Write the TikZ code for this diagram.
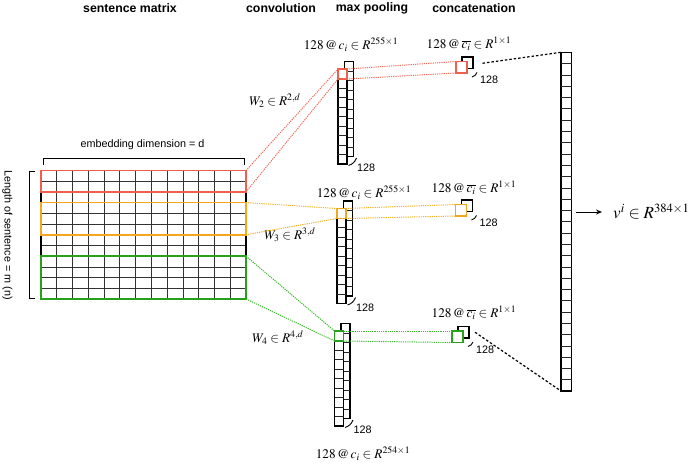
\documentclass[tikz,border=0pt]{standalone}
\usepackage{mathptmx}
\usepackage[no-math]{fontspec}
\setmainfont{Liberation Sans}
\usetikzlibrary{calc,arrows.meta}
\definecolor{cred}{HTML}{EE5F4E}
\definecolor{corange}{HTML}{F4A61E}
\definecolor{cgreen}{HTML}{27A01B}
\definecolor{dred}{HTML}{F26B5B}
\definecolor{dorange}{HTML}{F6B024}
\definecolor{dgreen}{HTML}{3CB82E}
\begin{document}
\begin{tikzpicture}[x=1pt,y=-1pt,
  box/.style={draw=black,line width=1.3pt,fill=white,inner sep=0pt,outer sep=0pt,anchor=north west},
  colbox/.style={box,minimum width=9pt,minimum height=95pt},
  sqbox/.style={box,minimum width=11pt,minimum height=11.5pt},
  hl/.style={draw=black,line width=1.7pt,inner sep=0pt,outer sep=0pt,anchor=north west,minimum width=205pt},
  csq/.style={line width=1.6pt,inner sep=0pt,outer sep=0pt,anchor=north west,minimum width=9pt,minimum height=10pt},
  psq/.style={line width=1.8pt,fill=white,inner sep=0pt,outer sep=0pt,anchor=north west,minimum width=11pt,minimum height=11.5pt},
  cellline/.style={draw=black!85,line width=0.5pt},
  gridline/.style={draw=black!80,line width=0.7pt},
  header/.style={font=\fontsize{12.3pt}{14pt}\selectfont\bfseries,inner sep=0pt},
  sans/.style={font=\fontsize{10.8pt}{12pt}\selectfont,inner sep=0pt},
  mlab/.style={font=\fontsize{13.2pt}{15pt}\selectfont,inner sep=0pt},
  dotc/.style={line width=1pt,dash pattern=on 1.2pt off 1pt},
  blackdash/.style={draw=black,line width=1.2pt,dash pattern=on 2.5pt off 2pt},
  tick/.style={draw=black,line width=0.9pt}
]
\useasboundingbox (0,0) rectangle (690,465);

% headers
\node[header] (h1) at (130,8) {sentence matrix};
\node[header] (h2) at (281,8) {convolution};
\node[header] (h3) at (372,8) {max pooling};
\node[header] (h4) at (474,8) {concatenation};

% sentence matrix
\node[box,line width=1.3pt,minimum width=205pt,minimum height=128.5pt] (mat) at (41,170.5) {};
\foreach \i in {1,...,12}
  \draw[gridline] ($(mat.north west)+(\i*205/13,0)$) -- ($(mat.south west)+(\i*205/13,0)$);
\foreach \j in {1,...,11}
  \draw[gridline] ($(mat.north west)+(0,\j*128.5/12)$) -- ($(mat.north east)+(0,\j*128.5/12)$);
\draw[black,line width=1.4pt] (mat.north west) -- (mat.south west) (mat.north east) -- (mat.south east);
\node[hl,draw=cred,minimum height=21.4pt] (rbox) at (41,170.5) {};
\node[hl,draw=corange,minimum height=32.1pt] (obox) at (41,202.6) {};
\node[hl,draw=cgreen,minimum height=42.8pt] (gbox) at (41,256.2) {};

% brackets and matrix labels
\draw[black,line width=1pt] (43,165) -- (43,159) -- (244,159) -- (244,165);
\draw[black,line width=1pt] (35,171.5) -- (29,171.5) -- (29,298) -- (35,298);
\node[sans] (emb) at (142.5,145) {embedding dimension = d};
\node[sans,rotate=-90] (len) at (7.5,235) {Length of sentence = m (n)};

% convolution columns (top, middle, bottom)
\node[colbox] (c2b) at (344.5,61.5) {};
\foreach \i in {1,...,9} \draw[cellline] ($(c2b.north west)+(0,\i*9.5)$) -- ($(c2b.north east)+(0,\i*9.5)$);
\node[colbox] (c2f) at (338,69) {};
\foreach \i in {1,...,9} \draw[cellline] ($(c2f.north west)+(0,\i*9.5)$) -- ($(c2f.north east)+(0,\i*9.5)$);
\node[csq,draw=cred] (c2s) at (338,69) {};

\node[colbox] (c3b) at (343.5,201) {};
\foreach \i in {1,...,9} \draw[cellline] ($(c3b.north west)+(0,\i*9.5)$) -- ($(c3b.north east)+(0,\i*9.5)$);
\node[colbox] (c3f) at (337,208.5) {};
\foreach \i in {1,...,9} \draw[cellline] ($(c3f.north west)+(0,\i*9.5)$) -- ($(c3f.north east)+(0,\i*9.5)$);
\node[csq,draw=corange] (c3s) at (337,208.5) {};

\node[colbox] (c4b) at (341,323.5) {};
\foreach \i in {1,...,9} \draw[cellline] ($(c4b.north west)+(0,\i*9.5)$) -- ($(c4b.north east)+(0,\i*9.5)$);
\node[colbox] (c4f) at (334.5,331) {};
\foreach \i in {1,...,9} \draw[cellline] ($(c4f.north west)+(0,\i*9.5)$) -- ($(c4f.north east)+(0,\i*9.5)$);
\node[csq,draw=cgreen] (c4s) at (334.5,331) {};

% 128 marks for convolution
\foreach \c in {c2b,c3b,c4b}{
  \draw[tick] ($(\c.south east)+(3,1.5)$) to[bend left=25] ($(\c.south east)+(-5,9)$);
  \node[sans,anchor=west] (\c-n) at ($(\c.south east)+(3.5,11.5)$) {128};
}

% convolution labels
\node[mlab] (l2) at (351,45) {$128\,@\,c_i \in R^{255\times 1}$};
\node[mlab] (l3) at (364,193) {$128\,@\,c_i \in R^{255\times 1}$};
\node[mlab] (l4) at (363,454) {$128\,@\,c_i \in R^{254\times 1}$};

% W labels
\node[mlab] (w2) at (275,101) {$W_2 \in R^{2,d}$};
\node[mlab] (w3) at (290,235) {$W_3 \in R^{3,d}$};
\node[mlab] (w4) at (278,338) {$W_4 \in R^{4,d}$};

% max pooling squares
\node[sqbox] (p2b) at (462,57) {};
\node[psq,draw=cred] (p2s) at (456,61.5) {};
\node[sqbox] (p3b) at (461.5,200) {};
\node[psq,draw=corange] (p3s) at (455.5,204.5) {};
\node[sqbox] (p4b) at (458,326.5) {};
\node[psq,draw=cgreen] (p4s) at (452,331) {};
\foreach \p in {p2b,p3b,p4b}{
  \draw[tick] ($(\p.south east)+(4,4)$) to[bend left=25] ($(\p.south east)+(-1,8.5)$);
  \node[sans,anchor=west] (\p-n) at ($(\p.south east)+(7,11.5)$) {128};
}
\node[mlab] (q2) at (469,44) {$128\,@\,\overline{c_i} \in R^{1\times 1}$};
\node[mlab] (q3) at (474,188) {$128\,@\,\overline{c_i} \in R^{1\times 1}$};
\node[mlab] (q4) at (474,313) {$128\,@\,\overline{c_i} \in R^{1\times 1}$};

% dotted connectors
\draw[dotc,dred] (rbox.north east) -- (c2s.north west);
\draw[dotc,dred] (rbox.south east) -- (c2s.south west);
\draw[dotc,dred] (c2s.north east) -- (p2s.north west);
\draw[dotc,dred] (c2s.south east) -- (p2s.south west);
\draw[dotc,dorange] (obox.north east) -- (c3s.north west);
\draw[dotc,dorange] (obox.south east) -- (c3s.south west);
\draw[dotc,dorange] (c3s.north east) -- (p3s.north west);
\draw[dotc,dorange] (c3s.south east) -- (p3s.south west);
\draw[dotc,dgreen] (gbox.north east) -- (c4s.north west);
\draw[dotc,dgreen] (gbox.south east) -- (c4s.south west);
\draw[dotc,dgreen] (c4s.north east) -- (p4s.north west);
\draw[dotc,dgreen] (c4s.south east) -- (p4s.south west);

% concatenation column
\node[box,minimum width=10.5pt,minimum height=338.7pt] (cat) at (561,52.3) {};
\foreach \i in {1,...,29} \draw[cellline] ($(cat.north west)+(0,\i*338.7/30)$) -- ($(cat.north east)+(0,\i*338.7/30)$);
\draw[blackdash] ($(p2b.east)+(9.5,0.5)$) -- (cat.north west);
\draw[blackdash] ($(p4b.east)+(6,0)$) -- (cat.south west);

% output
\coordinate (a0) at (576,212);
\node[font=\fontsize{17pt}{19pt}\selectfont,inner sep=0pt,anchor=west] (vi) at (613,212) {$v^i \in R^{384\times 1}$};
\draw[black,line width=1pt,-{Stealth[length=6pt,width=5pt]}] (a0) -- ([xshift=-11pt]vi.west);
\end{tikzpicture}
\end{document}
